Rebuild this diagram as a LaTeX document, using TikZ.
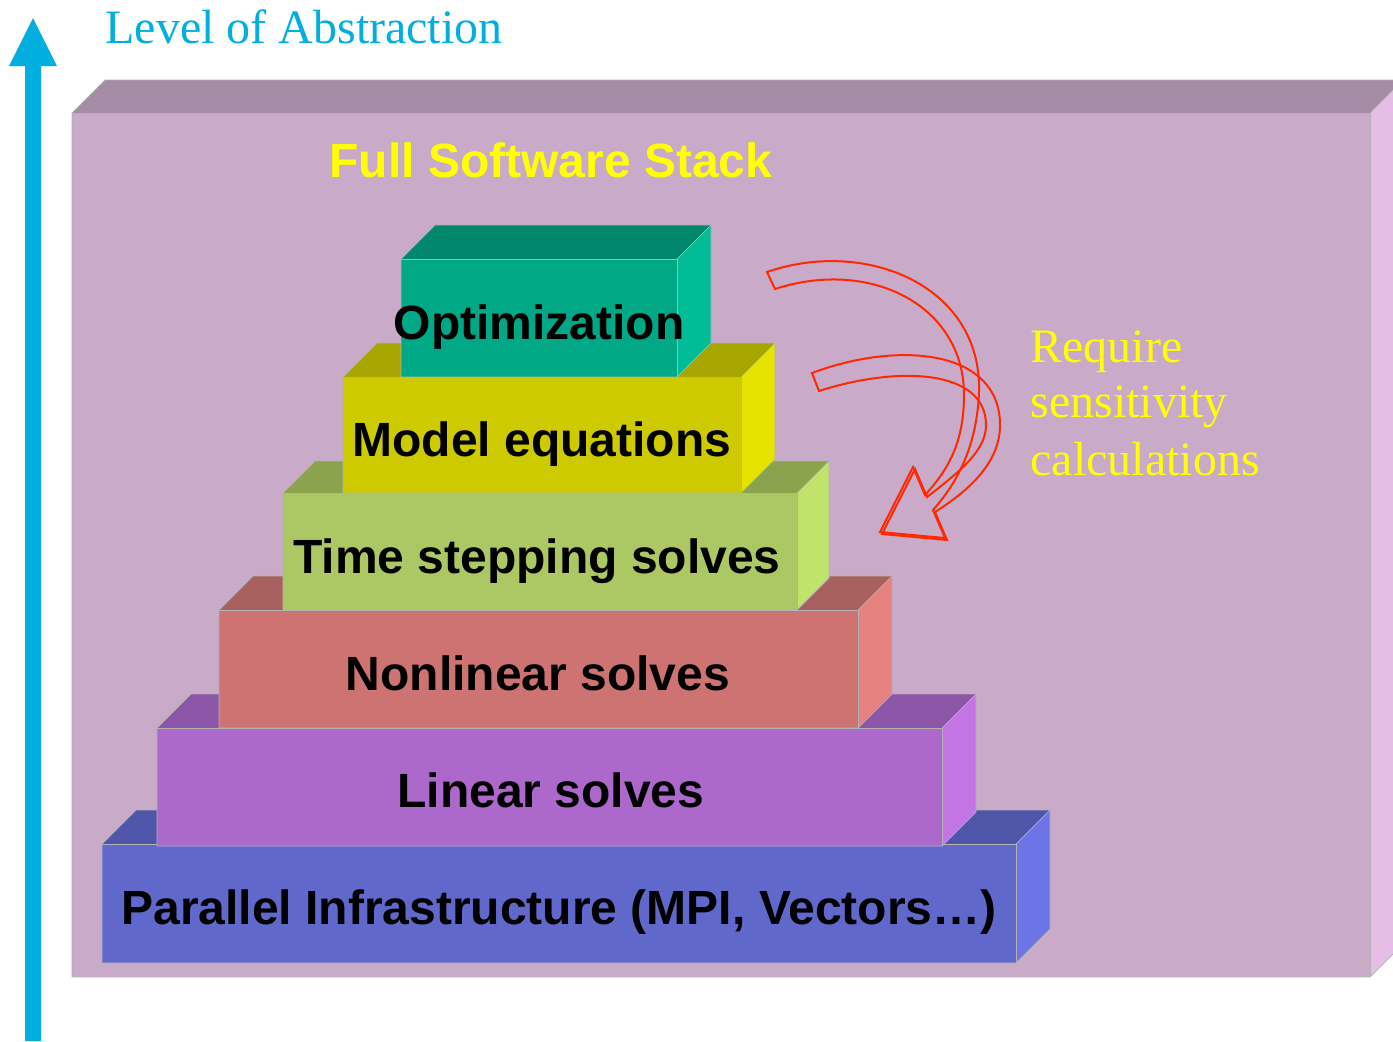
\documentclass[tikz,border=0pt]{standalone}
\usepackage{fontspec}
\setmainfont{Liberation Serif}
\newfontfamily\labelfont{Liberation Sans}
\definecolor{skyblue}{RGB}{0,174,223}
\definecolor{stackfront}{RGB}{201,170,201}
\definecolor{stacktop}{RGB}{166,140,166}
\definecolor{stackside}{RGB}{229,189,229}
\definecolor{optfront}{RGB}{0,168,134}
\definecolor{opttop}{RGB}{0,135,108}
\definecolor{optside}{RGB}{0,189,151}
\definecolor{modfront}{RGB}{205,203,0}
\definecolor{modtop}{RGB}{168,166,0}
\definecolor{modside}{RGB}{230,227,0}
\definecolor{timefront}{RGB}{171,200,100}
\definecolor{timetop}{RGB}{140,163,78}
\definecolor{timeside}{RGB}{192,227,108}
\definecolor{nlfront}{RGB}{205,115,113}
\definecolor{nltop}{RGB}{169,97,95}
\definecolor{nlside}{RGB}{229,130,128}
\definecolor{linfront}{RGB}{172,104,203}
\definecolor{lintop}{RGB}{140,85,168}
\definecolor{linside}{RGB}{195,117,229}
\definecolor{parfront}{RGB}{97,104,204}
\definecolor{partop}{RGB}{79,85,168}
\definecolor{parside}{RGB}{109,117,230}
\definecolor{arrowred}{RGB}{255,40,0}
\definecolor{noteyellow}{RGB}{255,255,0}

% a box seen from the front-right: front face, top face and right face
% #1,#2 front top-left, #3,#4 front bottom-right, #5 depth, #6 front, #7 top, #8 side
\newcommand{\cuboid}[8]{%
  \fill[#7] (#1,#2) -- (#1+#5,#2-#5) -- (#3+#5,#2-#5) -- (#3,#2) -- cycle;
  \fill[#8] (#3,#2) -- (#3+#5,#2-#5) -- (#3+#5,#4-#5) -- (#3,#4) -- cycle;
  \fill[#6] (#1,#2) rectangle (#3,#4);
  \draw[edge] (#1,#2) -- (#1+#5,#2-#5) -- (#3+#5,#2-#5) -- (#3+#5,#4-#5) -- (#3,#4) -- (#1,#4) -- cycle;
  \draw[edge] (#1,#2) -- (#3,#2) -- (#3,#4);
  \draw[edge] (#3,#2) -- (#3+#5,#2-#5);
}

\begin{document}
\begin{tikzpicture}[x=0.5pt,y=-0.5pt,
  edge/.style={draw=black!30,line width=0.35pt},
  layerlabel/.style={font=\labelfont\bfseries\fontsize{24}{28}\selectfont,text=black,anchor=base,inner sep=0pt},
  notetext/.style={anchor=base west,inner sep=0pt,text=noteyellow,font=\fontsize{24}{28}\selectfont},
  hollowarrow/.style={draw=arrowred,line width=1pt,line join=miter}]
\useasboundingbox (0,0) rectangle (1393,1041);
\clip (0,0) rectangle (1393,1041);
\fill[white] (0,0) rectangle (1393,1041);

% axis arrow
\fill[skyblue] (25,1041) -- (25,66) -- (9,66) -- (33,18) -- (57,66) -- (41,66) -- (41,1041) -- cycle;
\node[anchor=base west,inner sep=0pt,text=skyblue,font=\fontsize{24}{28}\selectfont] (axislabel) at (105,43) {Level of Abstraction};

% the enclosing stack
\cuboid{72}{113}{1370}{977}{33}{stackfront}{stacktop}{stackside}

% layers, bottom to top
\cuboid{102}{844}{1016}{963}{34}{parfront}{partop}{parside}
\cuboid{157}{728}{942}{846}{34}{linfront}{lintop}{linside}
\cuboid{219}{610}{858}{728}{34}{nlfront}{nltop}{nlside}
\cuboid{283}{493}{797}{610}{32}{timefront}{timetop}{timeside}
\cuboid{343}{377}{741}{493}{34}{modfront}{modtop}{modside}
\cuboid{401}{259}{677}{377}{34}{optfront}{opttop}{optside}

\node[anchor=base,inner sep=0pt,text=noteyellow,font=\labelfont\bfseries\fontsize{24}{28}\selectfont] (title) at (551,177) {Full Software Stack};

\node[layerlabel] (opt) at (539,339) {Optimization};
\node[layerlabel] (model) at (542,456) {Model equations};
\node[layerlabel] (time) at (537,573) {Time stepping solves};
\node[layerlabel] (nonlin) at (538,690) {Nonlinear solves};
\node[layerlabel] (lin) at (551,807) {Linear solves};
\node[layerlabel] (par) at (559,924) {Parallel Infrastructure (MPI, Vectors\ldots)};

% hollow curved arrows
\draw[hollowarrow] (767,272) .. controls (865,238) and (982,285) .. (979,392)
  .. controls (977,445) and (958,482) .. (933,510)
  -- (945,538) -- (880,532) -- (913,467) -- (925,495)
  .. controls (950,468) and (964,440) .. (964,395)
  .. controls (964,305) and (870,258) .. (775,289) -- cycle;
\draw[hollowarrow] (812,373) .. controls (900,340) and (1000,350) .. (1000,425)
  .. controls (1000,462) and (970,490) .. (935,512)
  -- (947,540) -- (882,534) -- (915,469) -- (927,497)
  .. controls (962,470) and (986,450) .. (986,425)
  .. controls (986,370) and (900,365) .. (819,391) -- cycle;

\node[notetext] (note) at (1030,362) {Require};
\node[notetext] (note2) at (1030,417) {sensitivity};
\node[notetext] (note3) at (1030,475) {calculations};
\end{tikzpicture}
\end{document}
